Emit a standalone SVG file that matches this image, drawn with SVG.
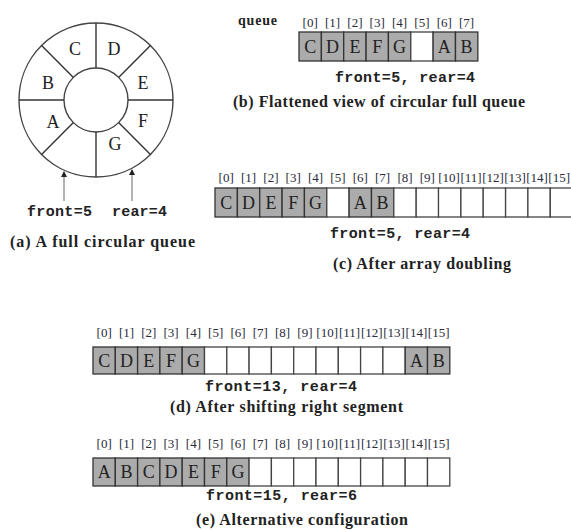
<svg xmlns="http://www.w3.org/2000/svg" width="571" height="530" viewBox="0 0 571 530">
<style>
.bg{fill:#fff}
.f{fill:#ababab;stroke:#333;stroke-width:1.3}
.e{fill:#fff;stroke:#444;stroke-width:1.3}
.ln{stroke:#333;stroke-width:1.4;fill:none}
.ring{stroke:#444;stroke-width:1.4;fill:#fff}
.lt{font-family:"Liberation Serif","Times New Roman",serif;font-size:18px;fill:#222;text-anchor:middle}
.ix{font-family:"Liberation Serif","Times New Roman",serif;font-size:13px;fill:#2a2a3a;text-anchor:middle}
.mono{font-family:"Liberation Mono","Courier New",monospace;font-size:15px;font-weight:bold;fill:#222}
.cap{font-family:"Liberation Serif","Times New Roman",serif;font-size:16px;font-weight:bold;fill:#222}
.lbl{font-family:"Liberation Serif","Times New Roman",serif;font-size:14px;font-weight:bold;fill:#222}
.arr{stroke:#999;stroke-width:1.5;fill:none}
</style>
<defs>
<marker id="ah" viewBox="0 0 6 6" refX="5" refY="3" markerWidth="6" markerHeight="6" orient="auto" markerUnits="userSpaceOnUse">
<path d="M0,0 L6,3 L0,6 z" fill="#222"/>
</marker>
</defs>
<rect class="bg" x="0" y="0" width="571" height="530"/>

<g id="circular-queue">
<circle class="ring" cx="96" cy="100" r="77"/>
<circle class="ring" cx="96" cy="100" r="32"/>
<line class="ln" x1="96" y1="23" x2="96" y2="68"/>
<line class="ln" x1="96" y1="132" x2="96" y2="177"/>
<line class="ln" x1="19" y1="100" x2="64" y2="100"/>
<line class="ln" x1="128" y1="100" x2="173" y2="100"/>
<line class="ln" x1="41.6" y1="45.6" x2="73.4" y2="77.4"/>
<line class="ln" x1="150.4" y1="45.6" x2="118.6" y2="77.4"/>
<line class="ln" x1="41.6" y1="154.4" x2="73.4" y2="122.6"/>
<line class="ln" x1="150.4" y1="154.4" x2="118.6" y2="122.6"/>
<text class="lt" x="75" y="55">C</text>
<text class="lt" x="114" y="55">D</text>
<text class="lt" x="48" y="89">B</text>
<text class="lt" x="143" y="89">E</text>
<text class="lt" x="53" y="128">A</text>
<text class="lt" x="143" y="127">F</text>
<text class="lt" x="115" y="150">G</text>
<text class="mono" x="27" y="216" textLength="65">front=5</text>
<text class="mono" x="112" y="216" textLength="55">rear=4</text>
<text class="cap" x="10" y="247" textLength="185">(a) A full circular queue</text>
</g>

<g id="connectors">
<line class="arr" x1="64" y1="201" x2="64" y2="172" marker-end="url(#ah)"/>
<line class="arr" x1="132" y1="201" x2="132" y2="170" marker-end="url(#ah)"/>
</g>

<g id="flattened-view">
<text class="lbl" x="238" y="25" textLength="39">queue</text>
<g class="ix">
<text x="310.2" y="27">[0]</text><text x="332.5" y="27">[1]</text><text x="354.9" y="27">[2]</text><text x="377.2" y="27">[3]</text>
<text x="399.6" y="27">[4]</text><text x="421.9" y="27">[5]</text><text x="444.3" y="27">[6]</text><text x="466.6" y="27">[7]</text>
</g>
<rect class="f" x="299" y="32" width="22.35" height="29"/>
<rect class="f" x="321.4" y="32" width="22.35" height="29"/>
<rect class="f" x="343.7" y="32" width="22.35" height="29"/>
<rect class="f" x="366.1" y="32" width="22.35" height="29"/>
<rect class="f" x="388.4" y="32" width="22.35" height="29"/>
<rect class="e" x="410.8" y="32" width="22.35" height="29"/>
<rect class="f" x="433.1" y="32" width="22.35" height="29"/>
<rect class="f" x="455.5" y="32" width="22.35" height="29"/>
<g class="lt">
<text x="310.2" y="52.5">C</text><text x="332.5" y="52.5">D</text><text x="354.9" y="52.5">E</text><text x="377.2" y="52.5">F</text>
<text x="399.6" y="52.5">G</text><text x="444.3" y="52.5">A</text><text x="466.6" y="52.5">B</text>
</g>
<text class="mono" x="335" y="82" textLength="140">front=5, rear=4</text>
<text class="cap" x="233" y="107" textLength="292">(b) Flattened view of circular full queue</text>
</g>

<g id="array-doubling">
<g class="ix">
<text x="226.2" y="182">[0]</text><text x="248.5" y="182">[1]</text><text x="270.9" y="182">[2]</text><text x="293.2" y="182">[3]</text>
<text x="315.6" y="182">[4]</text><text x="337.9" y="182">[5]</text><text x="360.3" y="182">[6]</text><text x="382.6" y="182">[7]</text>
<text x="405.0" y="182">[8]</text><text x="427.3" y="182">[9]</text><text x="449" y="182">[10]</text><text x="471" y="182">[11]</text>
<text x="493" y="182">[12]</text><text x="515" y="182">[13]</text><text x="537" y="182">[14]</text><text x="570" y="182" text-anchor="end">[15]</text>
</g>
<rect class="f" x="215" y="188" width="22.35" height="29"/>
<rect class="f" x="237.4" y="188" width="22.35" height="29"/>
<rect class="f" x="259.7" y="188" width="22.35" height="29"/>
<rect class="f" x="282.1" y="188" width="22.35" height="29"/>
<rect class="f" x="304.4" y="188" width="22.35" height="29"/>
<rect class="e" x="326.8" y="188" width="22.35" height="29"/>
<rect class="f" x="349.1" y="188" width="22.35" height="29"/>
<rect class="f" x="371.5" y="188" width="22.35" height="29"/>
<rect class="e" x="393.8" y="188" width="22.35" height="29"/>
<rect class="e" x="416.2" y="188" width="22.35" height="29"/>
<rect class="e" x="438.5" y="188" width="22.35" height="29"/>
<rect class="e" x="460.9" y="188" width="22.35" height="29"/>
<rect class="e" x="483.2" y="188" width="22.35" height="29"/>
<rect class="e" x="505.6" y="188" width="22.35" height="29"/>
<rect class="e" x="527.9" y="188" width="22.35" height="29"/>
<rect class="e" x="550.3" y="188" width="22.35" height="29"/>
<g class="lt">
<text x="226.2" y="208.5">C</text><text x="248.5" y="208.5">D</text><text x="270.9" y="208.5">E</text><text x="293.2" y="208.5">F</text>
<text x="315.6" y="208.5">G</text><text x="360.3" y="208.5">A</text><text x="382.6" y="208.5">B</text>
</g>
<text class="mono" x="330" y="238" textLength="140">front=5, rear=4</text>
<text class="cap" x="333" y="269" textLength="178">(c) After array doubling</text>
</g>

<g id="shift-right-segment">
<g class="ix">
<text x="104.2" y="337">[0]</text><text x="126.5" y="337">[1]</text><text x="148.8" y="337">[2]</text><text x="171.1" y="337">[3]</text>
<text x="193.4" y="337">[4]</text><text x="215.7" y="337">[5]</text><text x="238.0" y="337">[6]</text><text x="260.3" y="337">[7]</text>
<text x="282.6" y="337">[8]</text><text x="304.9" y="337">[9]</text><text x="327.2" y="337">[10]</text><text x="349.5" y="337">[11]</text>
<text x="371.8" y="337">[12]</text><text x="394.1" y="337">[13]</text><text x="416.4" y="337">[14]</text><text x="438.7" y="337">[15]</text>
</g>
<rect class="f" x="93" y="347" width="22.3" height="27"/>
<rect class="f" x="115.3" y="347" width="22.3" height="27"/>
<rect class="f" x="137.6" y="347" width="22.3" height="27"/>
<rect class="f" x="159.9" y="347" width="22.3" height="27"/>
<rect class="f" x="182.2" y="347" width="22.3" height="27"/>
<rect class="e" x="204.5" y="347" width="22.3" height="27"/>
<rect class="e" x="226.8" y="347" width="22.3" height="27"/>
<rect class="e" x="249.1" y="347" width="22.3" height="27"/>
<rect class="e" x="271.4" y="347" width="22.3" height="27"/>
<rect class="e" x="293.7" y="347" width="22.3" height="27"/>
<rect class="e" x="316" y="347" width="22.3" height="27"/>
<rect class="e" x="338.3" y="347" width="22.3" height="27"/>
<rect class="e" x="360.6" y="347" width="22.3" height="27"/>
<rect class="e" x="382.9" y="347" width="22.3" height="27"/>
<rect class="f" x="405.2" y="347" width="22.3" height="27"/>
<rect class="f" x="427.5" y="347" width="22.3" height="27"/>
<g class="lt">
<text x="104.2" y="366.5">C</text><text x="126.5" y="366.5">D</text><text x="148.8" y="366.5">E</text><text x="171.1" y="366.5">F</text>
<text x="193.4" y="366.5">G</text><text x="416.4" y="366.5">A</text><text x="438.7" y="366.5">B</text>
</g>
<text class="mono" x="205" y="391" textLength="152">front=13, rear=4</text>
<text class="cap" x="170" y="412" textLength="233">(d) After shifting right segment</text>
</g>

<g id="alternative-configuration">
<g class="ix">
<text x="104.2" y="448">[0]</text><text x="126.5" y="448">[1]</text><text x="148.8" y="448">[2]</text><text x="171.1" y="448">[3]</text>
<text x="193.4" y="448">[4]</text><text x="215.7" y="448">[5]</text><text x="238.0" y="448">[6]</text><text x="260.3" y="448">[7]</text>
<text x="282.6" y="448">[8]</text><text x="304.9" y="448">[9]</text><text x="327.2" y="448">[10]</text><text x="349.5" y="448">[11]</text>
<text x="371.8" y="448">[12]</text><text x="394.1" y="448">[13]</text><text x="416.4" y="448">[14]</text><text x="438.7" y="448">[15]</text>
</g>
<rect class="f" x="93" y="458" width="22.3" height="28"/>
<rect class="f" x="115.3" y="458" width="22.3" height="28"/>
<rect class="f" x="137.6" y="458" width="22.3" height="28"/>
<rect class="f" x="159.9" y="458" width="22.3" height="28"/>
<rect class="f" x="182.2" y="458" width="22.3" height="28"/>
<rect class="f" x="204.5" y="458" width="22.3" height="28"/>
<rect class="f" x="226.8" y="458" width="22.3" height="28"/>
<rect class="e" x="249.1" y="458" width="22.3" height="28"/>
<rect class="e" x="271.4" y="458" width="22.3" height="28"/>
<rect class="e" x="293.7" y="458" width="22.3" height="28"/>
<rect class="e" x="316" y="458" width="22.3" height="28"/>
<rect class="e" x="338.3" y="458" width="22.3" height="28"/>
<rect class="e" x="360.6" y="458" width="22.3" height="28"/>
<rect class="e" x="382.9" y="458" width="22.3" height="28"/>
<rect class="e" x="405.2" y="458" width="22.3" height="28"/>
<rect class="e" x="427.5" y="458" width="22.3" height="28"/>
<g class="lt">
<text x="104.2" y="478">A</text><text x="126.5" y="478">B</text><text x="148.8" y="478">C</text><text x="171.1" y="478">D</text>
<text x="193.4" y="478">E</text><text x="215.7" y="478">F</text><text x="238.0" y="478">G</text>
</g>
<text class="mono" x="206" y="500" textLength="151">front=15, rear=6</text>
<text class="cap" x="196" y="525" textLength="212">(e) Alternative configuration</text>
</g>
</svg>
